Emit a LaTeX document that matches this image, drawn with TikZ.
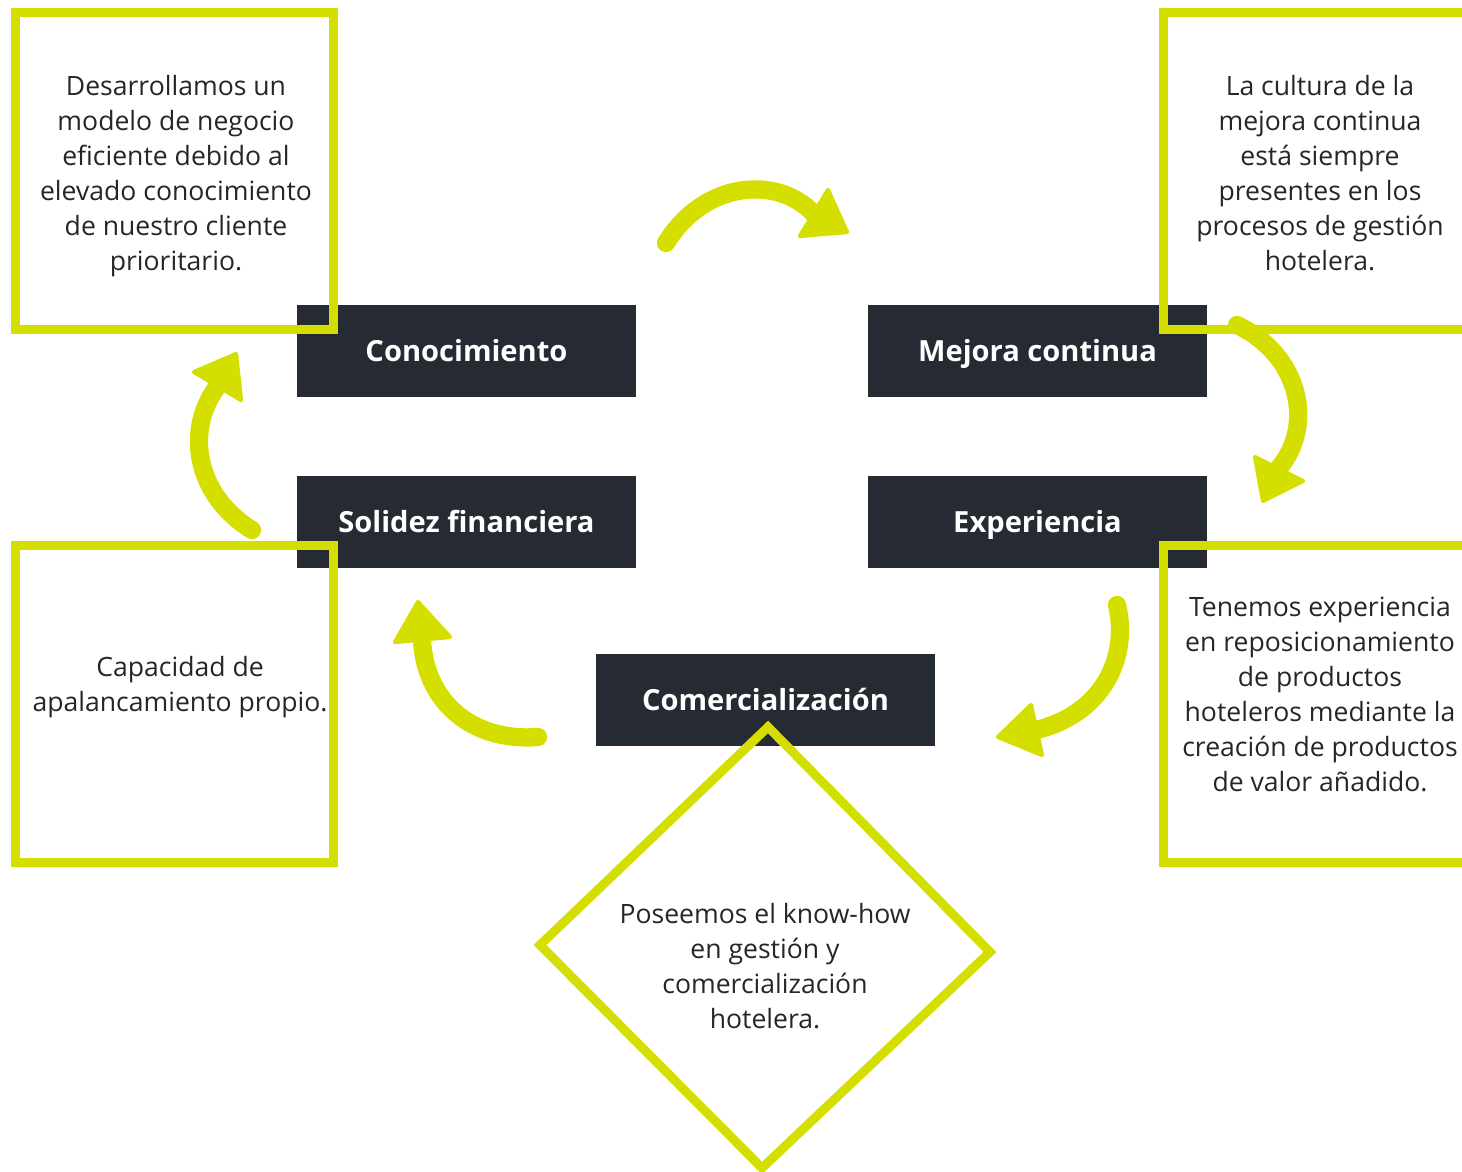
\documentclass[tikz,border=0pt]{standalone}
\usepackage{fontspec}
\setmainfont{Open Sans}
\usepackage{tikz}
\usetikzlibrary{calc}

\definecolor{Lima}{HTML}{D4DF00}
\definecolor{Pizarra}{HTML}{262A33}

\tikzset{
  etiqueta/.style={fill=Pizarra, text=white, inner sep=0pt,
    minimum width=8.475cm, minimum height=2.3cm,
    text height=14.8pt, text depth=0pt,
    font=\fontsize{20.7}{24}\selectfont\bfseries},
  texto/.style={align=center, inner sep=0pt, text=black!85,
    font=\fontsize{18.9}{24.9}\selectfont},
  marco/.style={draw=Lima, line width=6.4pt},
  flecha/.style={draw=Lima, line width=13pt, line cap=round},
  punta/.style={fill=Lima, draw=Lima, line width=3pt, line join=round},
}

\begin{document}
\begin{tikzpicture}[x=0.025cm, y=-0.025cm]
        \useasboundingbox (0,0) rectangle (1462,1172);
        \clip (0,0) rectangle (1462,1172);

        % etiquetas
        \node[etiqueta] (conoc) at (466.5,351) {Conocimiento};
        \node[etiqueta] (mejora) at (1037.5,351) {Mejora continua};
        \node[etiqueta] (solidez) at (466.5,522) {Solidez financiera};
        \node[etiqueta] (exper) at (1037.5,522) {Experiencia};
        \node[etiqueta] (comerc) at (765.5,700) {Comercialización};

        % marcos
        \draw[marco] (15,12) rectangle (333,329);
        \draw[marco] (1163,12) rectangle (1490,329);
        \draw[marco] (15,545) rectangle (333,862);
        \draw[marco] (1163,545) rectangle (1490,862);
        \draw[marco] (768,727) -- (990,952) -- (762,1168) -- (540,945) -- cycle;

        \node[texto] (tconoc) at (176,176) {Desarrollamos un\\modelo de negocio\\eficiente debido al\\elevado conocimiento\\de nuestro cliente\\prioritario.};
        \node[texto] (tmejora) at (1320,173) {La cultura de la\\mejora continua\\está siempre\\presentes en los\\procesos de gestión\\hotelera.};
        \node[texto] (tsolidez) at (180,687) {Capacidad de\\apalancamiento propio.};
        \node[texto] (texper) at (1320,694) {Tenemos experiencia\\en reposicionamiento\\de productos\\hoteleros mediante la\\creación de productos\\de valor añadido.};
        \node[texto] (tcomerc) at (765,966) {Poseemos el know-how\\en gestión y\\comercialización\\hotelera.};

        % flechas
        \coordinate (f1a) at (666,243);
        \coordinate (f1b) at (813,213);
        \coordinate (f2a) at (1237,325);
        \coordinate (f2b) at (1279,468);
        \coordinate (f3a) at (1117,605);
        \coordinate (f3b) at (1036,730);
        \coordinate (f4a) at (538,737);
        \coordinate (f4b) at (422,640);
        \coordinate (f5a) at (252,530);
        \coordinate (f5b) at (217,387);

        \draw[flecha] (f1a) .. controls (705,180) and (778,176) .. (f1b);
        \draw[flecha] (f2a) .. controls (1300,355) and (1315,425) .. (f2b);
        \draw[flecha] (f3a) .. controls (1130,660) and (1100,715) .. (f3b);
        \draw[flecha] (f4a) .. controls (470,742) and (425,700) .. (f4b);
        \draw[flecha] (f5a) .. controls (195,495) and (185,430) .. (f5b);

        \filldraw[punta] (828,190) -- (847,232) -- (800,236) -- cycle;
        \filldraw[punta] (1255,457) -- (1303,481) -- (1263,501) -- cycle;
        \filldraw[punta] (1031,705) -- (998,737) -- (1042,755) -- cycle;
        \filldraw[punta] (418,602) -- (395,642) -- (450,637) -- cycle;
        \filldraw[punta] (236,354) -- (194,372) -- (241,400) -- cycle;
\end{tikzpicture}
\end{document}
